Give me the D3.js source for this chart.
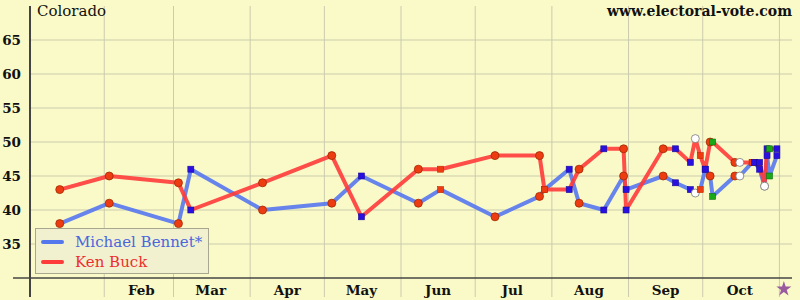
<!DOCTYPE html>
<html>
<head>
<meta charset="utf-8">
<script src="https://cdn.jsdelivr.net/npm/d3@7"></script>
<style>
  body { margin: 0; background: #fafac8; }
  svg { display: block; }
  text { font-family: "DejaVu Serif", serif; }
</style>
</head>
<body>
<svg id="chart" width="800" height="300"></svg>
<script>
/// Poll data, Colorado senate race 2010
var pollDates = ["2010-01-14","2010-02-03","2010-03-03","2010-03-08","2010-04-06",
                 "2010-05-04","2010-05-16","2010-06-08","2010-06-17","2010-07-09",
                 "2010-07-27","2010-07-29","2010-08-08","2010-08-12","2010-08-22",
                 "2010-08-30","2010-08-31","2010-09-15","2010-09-20","2010-09-26",
                 "2010-09-28","2010-09-30","2010-10-02","2010-10-04","2010-10-05",
                 "2010-10-14","2010-10-16","2010-10-21","2010-10-22","2010-10-24",
                 "2010-10-26","2010-10-27","2010-10-28","2010-10-31"]
var bennet   = [38,41,38,46,40, 41,45,41,43,39, 42,43,46,41,40, 45,43,45,44,43,
                42.5,43,46,45,42, 45,45,47,47,46, 43.5,48,45,48]
var buck     = [43,45,44,40,44, 48,39,46,46,48, 48,43,43,46,49, 49,40,49,49,47,
                50.5,48,46,50,50, 47,47,47,47,47, 43.5,49,49,49]
/// marker used by each pollster
var pollster = ["rc","rc","rc","bs","rc", "rc","bs","rc","rs","rc",
                "rc","rs","bs","rc","bs", "rc","bs","rc","bs","bs",
                "wc","rs","bs","rc","gs", "rc","wc","rs","bs","bs",
                "wc","bs","gs","bs"]

var candidates = ["Michael Bennet*","Ken Buck"]
var candColors = ["#5577ee","#ff3a3a"]
var textColors = ["#4a66dd","#ee2e2e"]
var yTicks     = [35,40,45,50,55,60,65]
var monthStarts = ["2010-02-01","2010-03-01","2010-04-01","2010-05-01","2010-06-01",
                   "2010-07-01","2010-08-01","2010-09-01","2010-10-01","2010-11-01"]
var monthLabels = ["Feb","Mar","Apr","May","Jun","Jul","Aug","Sep","Oct"]
var electionDay = "2010-11-02"

var parse = d3.timeParse("%Y-%m-%d")
var svg = d3.select("#chart")

var x = d3.scaleTime()
    .domain([parse("2010-01-01"), parse("2010-11-01")])
    .range([27.6, 779.4])
var y = d3.scaleLinear()
    .domain([30, 70])
    .range([278, 6])

svg.append("rect").attr("width", 800).attr("height", 300).attr("fill", "#fafac8")

/// Grid
svg.append("g").selectAll("line").data(yTicks).enter().append("line")
    .attr("x1", 30).attr("x2", 792)
    .attr("y1", d => y(d)).attr("y2", d => y(d))
    .attr("stroke", "#cbcbae").attr("stroke-width", 1)
svg.append("g").selectAll("line").data(monthStarts).enter().append("line")
    .attr("x1", d => x(parse(d))).attr("x2", d => x(parse(d)))
    .attr("y1", 6).attr("y2", 297)
    .attr("stroke", "#cbcbae").attr("stroke-width", 1)

/// Axes lines
svg.append("line").attr("x1", 13).attr("x2", 792).attr("y1", y(30)).attr("y2", y(30))
    .attr("stroke", "#444").attr("stroke-width", 1.5)
svg.append("line").attr("x1", 30).attr("x2", 30).attr("y1", 6).attr("y2", 297)
    .attr("stroke", "#444").attr("stroke-width", 2)

/// Tick labels
svg.append("g").selectAll("text").data(yTicks).enter().append("text")
    .attr("x", 21).attr("y", d => y(d) + 5)
    .attr("text-anchor", "end")
    .attr("font-size", "13.5px").attr("font-weight", "bold").attr("fill", "#111")
    .text(d => d)
svg.append("g").selectAll("text").data(monthLabels).enter().append("text")
    .attr("x", (d,i) => x(d3.timeDay.offset(parse(monthStarts[i]), 15)))
    .attr("y", 295)
    .attr("text-anchor", "middle")
    .attr("font-size", "13.5px").attr("font-weight", "bold").attr("fill", "#111")
    .text(d => d)

/// Titles
svg.append("text").attr("x", 37).attr("y", 16)
    .attr("font-size", "15px").attr("fill", "#111").text("Colorado")
svg.append("text").attr("x", 792).attr("y", 16).attr("text-anchor", "end")
    .attr("font-size", "14px").attr("font-weight", "bold").attr("fill", "#111")
    .text("www.electoral-vote.com")

/// Lines
var polls = pollDates.map((d,i) => ({date: parse(d), vals: [bennet[i], buck[i]], p: pollster[i]}))
var series = [0, 1]

series.forEach(function(k){
    var line = d3.line()
        .x(d => x(d.date))
        .y(d => y(d.vals[k]))
    svg.append("path").datum(polls)
        .attr("d", line)
        .attr("fill", "none")
        .attr("stroke", candColors[k])
        .attr("stroke-width", 4)
        .attr("stroke-opacity", 0.9)
        .attr("stroke-linejoin", "round")
})

/// Markers
var fills   = {rc:"#ee3c12", rs:"#ee3c12", bs:"#2a10e0", gs:"#18a818", wc:"#ffffff"}
var strokes = {rc:"#a02a00", rs:"#c02a00", bs:"#1a0a99", gs:"#0e700e", wc:"#777777"}

series.forEach(function(k){
    var g = svg.append("g")
    polls.forEach(function(d){
        var cx = x(d.date), cy = y(d.vals[k])
        if (d.p == "rc" || d.p == "wc") {
            g.append("circle").attr("cx", cx).attr("cy", cy).attr("r", 4)
                .attr("fill", fills[d.p]).attr("stroke", strokes[d.p]).attr("stroke-width", 0.8)
        } else {
            g.append("rect").attr("x", cx - 3).attr("y", cy - 3)
                .attr("width", 6).attr("height", 6)
                .attr("fill", fills[d.p]).attr("stroke", strokes[d.p]).attr("stroke-width", 0.6)
        }
    })
})

/// Election day star
svg.append("path")
    .attr("d", d3.symbol(d3.symbolStar, 70)())
    .attr("transform", "translate(" + (x(parse(electionDay)) + 2) + ",289)")
    .attr("fill", "#9a5a9e")

/// Legend
var lg = svg.append("g")
lg.append("rect").attr("x", 35.5).attr("y", 228.5).attr("width", 173).attr("height", 45)
    .attr("fill", "#f1f1cf").attr("stroke", "#a8a890").attr("stroke-width", 1)
candidates.forEach(function(c, k){
    var ly = 242 + k * 20
    lg.append("line").attr("x1", 43).attr("x2", 62).attr("y1", ly).attr("y2", ly)
        .attr("stroke", candColors[k]).attr("stroke-width", 4).attr("stroke-linecap", "round")
    lg.append("text").attr("x", 75).attr("y", ly + 5)
        .attr("font-size", "15px").attr("fill", textColors[k]).text(c)
})
</script>
</body>
</html>
